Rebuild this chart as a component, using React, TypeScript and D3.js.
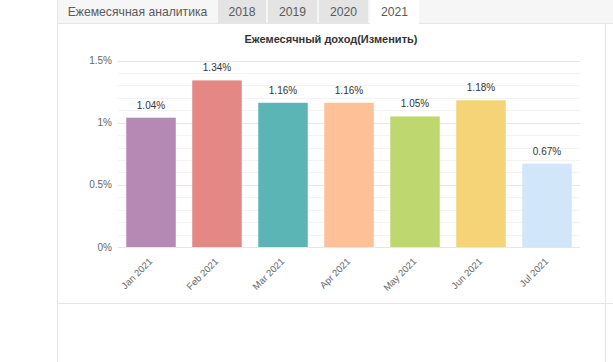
import React, {useEffect, useRef} from 'react';
import * as d3 from 'd3';

const months = ['Jan 2021', 'Feb 2021', 'Mar 2021', 'Apr 2021', 'May 2021', 'Jun 2021', 'Jul 2021'];
const income = [1.04, 1.34, 1.16, 1.16, 1.05, 1.18, 0.67];
const barColors = ['#b688b4', '#e38885', '#5bb5b5', '#fec096', '#bfd76f', '#f4d476', '#d1e6f9'];
const tabs = ['Ежемесячная аналитика', '2018', '2019', '2020', '2021'];
const activeTab = '2021';
const yTicks = [0, 0.5, 1, 1.5];

const W = 613;
const H = 362;
const FONT = '"Liberation Sans", Arial, sans-serif';

export default function App() {
  const svgRef = useRef<SVGSVGElement>(null);

  useEffect(() => {
    if (!svgRef.current) return;
    const svg = d3.select(svgRef.current);
    svg.selectAll('*').remove();
    svg.style('font-family', FONT);

    // tab strip
    const tabEdges = [57, 218, 268, 319, 370, 419];
    svg.append('rect').attr('x', 57).attr('y', 0).attr('width', W - 57).attr('height', 24).attr('fill', '#f6f6f6');
    svg.append('line').attr('x1', 57).attr('x2', W).attr('y1', 23.5).attr('y2', 23.5).attr('stroke', '#e6e6e6');
    tabs.forEach((t, i) => {
      const x0 = tabEdges[i];
      const x1 = tabEdges[i + 1] - (i > 0 && i < tabs.length - 1 ? 2 : 0);
      const active = t === activeTab;
      const fill = i === 0 ? '#f6f6f6' : active ? '#ffffff' : '#e4e4e4';
      svg.append('rect').attr('x', x0).attr('y', 0).attr('width', x1 - x0).attr('height', active ? 24 : 23).attr('fill', fill);
      svg.append('text')
        .attr('x', (x0 + x1) / 2)
        .attr('y', 15.5)
        .attr('text-anchor', 'middle')
        .attr('font-size', 12.2)
        .attr('fill', '#5a5a5a')
        .text(t);
    });

    // panel borders
    svg.append('line').attr('x1', 57.5).attr('x2', 57.5).attr('y1', 0).attr('y2', H).attr('stroke', '#e6e6e6');
    svg.append('line').attr('x1', 605.5).attr('x2', 605.5).attr('y1', 24).attr('y2', H).attr('stroke', '#e6e6e6');
    svg.append('line').attr('x1', 57).attr('x2', W).attr('y1', 303.5).attr('y2', 303.5).attr('stroke', '#e6e6e6');

    svg.append('text')
      .attr('x', 331)
      .attr('y', 43)
      .attr('text-anchor', 'middle')
      .attr('font-size', 11)
      .attr('font-weight', 'bold')
      .attr('fill', '#333')
      .text('Ежемесячный доход(Изменить)');

    const x = d3.scaleBand<string>().domain(months).range([118, 580]).paddingInner(0.25).paddingOuter(0.125);
    const y = d3.scaleLinear().domain([0, 1.5]).range([247, 60.5]);

    // minor grid every 0.1%, major every 0.5%
    const minor = d3.range(0, 15).map((i) => i / 10).filter((v) => Math.round(v * 10) % 5 !== 0);
    svg.append('g')
      .selectAll('line')
      .data(minor)
      .join('line')
      .attr('x1', 118).attr('x2', 580)
      .attr('y1', (d) => Math.round(y(d)) + 0.5)
      .attr('y2', (d) => Math.round(y(d)) + 0.5)
      .attr('stroke', '#f3f3f3');
    svg.append('g')
      .selectAll('line')
      .data(yTicks)
      .join('line')
      .attr('x1', 118).attr('x2', 580)
      .attr('y1', (d) => Math.round(y(d)) + 0.5)
      .attr('y2', (d) => Math.round(y(d)) + 0.5)
      .attr('stroke', '#e6e6e6');

    svg.append('g')
      .selectAll('text')
      .data(yTicks)
      .join('text')
      .attr('x', 112)
      .attr('y', (d) => y(d) + 3.5)
      .attr('text-anchor', 'end')
      .attr('font-size', 10)
      .attr('fill', '#666')
      .text((d) => `${d}%`);

    svg.append('g')
      .selectAll('rect')
      .data(income)
      .join('rect')
      .attr('x', (_, i) => x(months[i])!)
      .attr('y', (d) => y(d))
      .attr('width', x.bandwidth())
      .attr('height', (d) => y(0) - y(d))
      .attr('fill', (_, i) => barColors[i]);

    svg.append('g')
      .selectAll('text')
      .data(income)
      .join('text')
      .attr('x', (_, i) => x(months[i])! + x.bandwidth() / 2)
      .attr('y', (d) => y(d) - 9)
      .attr('text-anchor', 'middle')
      .attr('font-size', 10)
      .attr('fill', '#333')
      .text((d) => `${d.toFixed(2)}%`);

    svg.append('g')
      .selectAll('text')
      .data(months)
      .join('text')
      .attr('transform', (m) => `translate(${x(m)! + x.bandwidth() / 2 + 2},${y(0) + 15}) rotate(-45)`)
      .attr('text-anchor', 'end')
      .attr('font-size', 9.5)
      .attr('fill', '#666')
      .text((m) => m);
  }, []);

  return (
    <div style={{position: 'fixed', left: 0, top: 0, width: W, height: H, background: '#fff'}}>
      <svg ref={svgRef} width={W} height={H} />
    </div>
  );
}
